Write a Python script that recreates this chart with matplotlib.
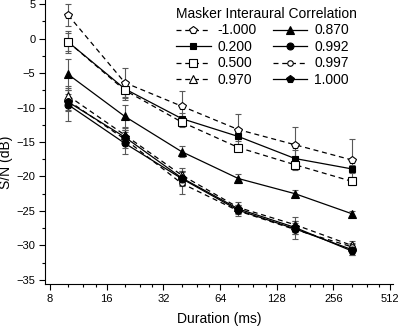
import numpy as np
import matplotlib
matplotlib.use('Agg')
import matplotlib.pyplot as plt
from matplotlib.ticker import FixedLocator, NullFormatter

plt.rcParams['font.family'] = ['Liberation Sans', 'DejaVu Sans']

# Datos
duration = [10, 20, 40, 80, 160, 320]
labels = ['-1.000', '0.200', '0.500', '0.970', '0.870', '0.992', '0.997', '1.000']

sn_m1000 = [3.4, -6.4, -9.8, -13.2, -15.4, -17.6]
sn_0200 = [-0.5, -7.3, -11.6, -14.2, -17.4, -18.9]
sn_0500 = [-0.5, -7.5, -12.1, -15.8, -18.3, -20.7]
sn_0970 = [-8.3, -14.0, -19.8, -24.5, -27.0, -30.0]
sn_0870 = [-5.2, -11.3, -16.4, -20.3, -22.5, -25.4]
sn_0992 = [-9.6, -15.2, -20.3, -24.9, -27.6, -30.6]
sn_0997 = [-9.0, -14.6, -21.0, -25.0, -27.7, -30.2]
sn_1000 = [-9.2, -14.3, -20.2, -24.7, -27.4, -30.8]

err_m1000 = [1.6, 2.2, 2.2, 2.3, 2.6, 3.0]
err_0200 = [1.6, 1.2, 0.8, 0.7, 1.2, 0.6]
err_0500 = [1.3, 1.4, 0.7, 0.5, 0.7, 0.6]
err_0970 = [1.4, 1.2, 1.0, 0.8, 1.1, 0.7]
err_0870 = [2.2, 1.6, 0.8, 0.6, 0.5, 0.4]
err_0992 = [2.4, 1.6, 1.1, 0.6, 0.8, 0.8]
err_0997 = [1.5, 1.3, 1.6, 0.8, 1.3, 0.6]
err_1000 = [1.2, 1.1, 1.0, 0.6, 0.9, 0.6]

series = [sn_m1000, sn_0200, sn_0500, sn_0970, sn_0870, sn_0992, sn_0997, sn_1000]
errors = [err_m1000, err_0200, err_0500, err_0970, err_0870, err_0992, err_0997, err_1000]

# Estilos: (linea, marcador, relleno, tamano)
styles = [
    ((0, (4, 3)), 'p', 'white', 6),
    ('-', 's', 'black', 5),
    ((0, (4, 3)), 's', 'white', 5.5),
    ((0, (4, 3)), '^', 'white', 6),
    ('-', '^', 'black', 6),
    ('-', 'o', 'black', 5),
    ((0, (4, 3)), 'o', 'white', 4),
    ('-', 'p', 'black', 6),
]

fig = plt.figure(figsize=(4.0, 3.27), dpi=100)
ax = fig.add_axes([0.1125, 0.1315, 0.87, 0.8685])

# Dibujar primero los de abajo, encima los de arriba
order = [3, 6, 7, 5, 4, 1, 2, 0]
handles = [None] * len(series)
for i in order:
    ls, mk, fc, ms = styles[i]
    ax.errorbar(duration, series[i], yerr=errors[i], fmt='none', ecolor='0.35',
                elinewidth=0.8, capsize=2.5, capthick=0.8, zorder=2)
    h, = ax.plot(duration, series[i], linestyle=ls, color='black', lw=0.9,
                 marker=mk, markersize=ms, markerfacecolor=fc,
                 markeredgecolor='black', markeredgewidth=0.8, zorder=3)
    handles[i] = h

ax.set_xscale('log', base=2)
ax.set_xlim(7.53, 530)
ax.set_ylim(-35.6, 5.6)

majors = [8, 16, 32, 64, 128, 256, 512]
ax.xaxis.set_major_locator(FixedLocator(majors))
ax.set_xticklabels([str(m) for m in majors])
minors = [b * f for b in majors[:-1] for f in (1.25, 1.5, 1.75)]
ax.xaxis.set_minor_locator(FixedLocator(minors))
ax.xaxis.set_minor_formatter(NullFormatter())

ax.set_yticks(np.arange(-35, 6, 5))
ax.set_yticks(np.arange(-32.5, 5, 5), minor=True)

for s in ['top', 'right']:
    ax.spines[s].set_visible(False)
ax.tick_params(which='major', direction='out', length=4, width=0.8, labelsize=8, pad=3)
ax.tick_params(which='minor', direction='out', length=2.5, width=0.8)

ax.set_xlabel('Duration (ms)', fontsize=10, labelpad=6)
ax.set_ylabel('S/N (dB)', fontsize=10)
ax.yaxis.set_label_coords(-0.092, 0.43)

leg = ax.legend(handles, labels, ncol=2, title='Masker Interaural Correlation',
                frameon=False, fontsize=10, title_fontsize=10, loc='upper left',
                bbox_to_anchor=(0.36, 0.995), handlelength=2.5, handletextpad=0.5,
                columnspacing=1.15, labelspacing=0.18, borderaxespad=0)
leg._legend_box.align = 'left'

plt.savefig('out.png', dpi=100)
